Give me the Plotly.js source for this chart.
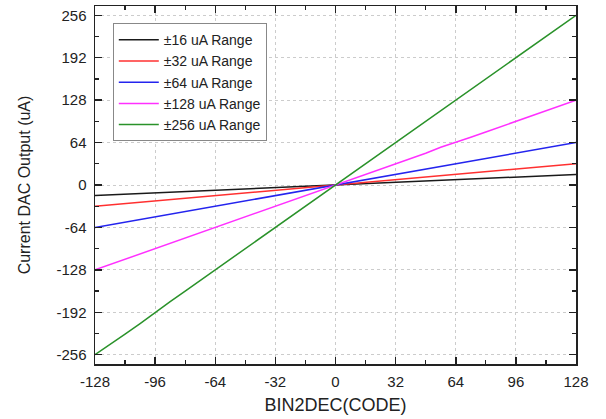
<!DOCTYPE html>
<html>
<head>
<meta charset="utf-8">
<script src="https://cdn.plot.ly/plotly-3.0.1.min.js"></script>
<style>html,body{margin:0;padding:0;background:#fff;}#chart{width:606px;height:419px;}</style>
</head>
<body>
<div id="chart"></div>
<script>
// DAC code (x) values
var codes = [-128,-120,-112,-104,-96,-88,-80,-72,-64,-56,-48,-40,-32,-24,-16,-8,0,8,16,24,32,40,48,56,64,72,80,88,96,104,112,120,128];
// Output current (uA) per range
var range16  = [-16,-15,-14,-13,-12,-11,-10,-9,-8,-7,-6,-5,-4,-3,-2,-1,0,1,2,3,4,5,6,7,8,9,10,11,12,13,14,15,16];
var range32  = [-32,-30,-28,-26,-24,-22,-20,-18,-16,-14,-12,-10,-8,-6,-4,-2,0,2,4,6,8,10,12,14,16,18,20,22,24,26,28,30,32];
var range64  = [-64,-60,-56,-52,-48,-44,-40,-36,-32,-28,-24,-20,-16,-12,-8,-4,0,4,8,12,16,20,24,28,32,36,40,44,48,52,56,60,64];
var range128 = [-128,-120,-113,-105,-96,-88,-80,-72,-64,-56,-48,-40,-32,-24,-16,-8,0,8,16,24,32,40,48,57,64,72,80,88,96,104,112,120,128];
var range256 = [-256,-241,-225,-209,-192,-176,-160,-144,-127,-111,-95,-79,-63,-47,-31,-15,0,16,32,48,65,80,96,113,128,144,160,177,193,208,225,240,256];
var names = ["±16 uA Range","±32 uA Range","±64 uA Range","±128 uA Range","±256 uA Range"];
var series = [range16, range32, range64, range128, range256];
var colors = ["#1a1a1a","#ff3030","#2424ee","#ff30ff","#2a922a"];
var yTickVals = [-256,-192,-128,-64,0,64,128,192,256];
var yTickText = ["-256","-192","-128","-64","0","64","128","192","256"];
var xTickVals = [-128,-96,-64,-32,0,32,64,96,128];
var xTickText = ["-128","-96","-64","-32","0","32","64","96","128"];

var traces = series.map(function(s,i){
  return {x: codes, y: s, type:'scatter', mode:'lines', name: names[i],
          line:{color: colors[i], width: 1.5}};
});

var FONT = 'Liberation Sans, Arial, sans-serif';
var axisCommon = {
  showline:true, linecolor:'#222', linewidth:1.5, mirror:'allticks',
  ticks:'inside', ticklen:7, tickwidth:1.5, tickcolor:'#222',
  showgrid:true, gridcolor:'#cccccc', griddash:'dot', gridwidth:1,
  zeroline:false, automargin:false,
  tickfont:{family:FONT, size:15, color:'#222'}
};

var layout = {
  width:606, height:419,
  margin:{l:95, r:30, t:6, b:55},
  paper_bgcolor:'#fff', plot_bgcolor:'#fff',
  font:{family:FONT, color:'#222'},
  xaxis: Object.assign({}, axisCommon, {
    range:[-128,128], tickmode:'array', tickvals:xTickVals, ticktext:xTickText,
    ticklabelstandoff:3,
    minor:{ticks:'inside', ticklen:4, tickwidth:1.2, tickcolor:'#222', dtick:16, tick0:0, showgrid:false},
    title:{text:'BIN2DEC(CODE)', font:{family:FONT, size:18, color:'#222'}, standoff:10}
  }),
  yaxis: Object.assign({}, axisCommon, {
    range:[-270,270], tickmode:'array', tickvals:yTickVals, ticktext:yTickText,
    ticklabelstandoff:4,
    minor:{ticks:'inside', ticklen:4, tickwidth:1.2, tickcolor:'#222', dtick:32, tick0:0, showgrid:false},
    title:{text:'Current DAC Output (uA)', font:{family:FONT, size:16, color:'#222'}, standoff:22}
  }),
  legend:{x:0.037, y:0.952, xanchor:'left', yanchor:'top',
          bgcolor:'#fff', bordercolor:'#888', borderwidth:1, itemwidth:40,
          font:{family:FONT, size:14, color:'#222'}, tracegroupgap:0},
  showlegend:true
};

Plotly.newPlot('chart', traces, layout, {staticPlot:true});
</script>
</body>
</html>
